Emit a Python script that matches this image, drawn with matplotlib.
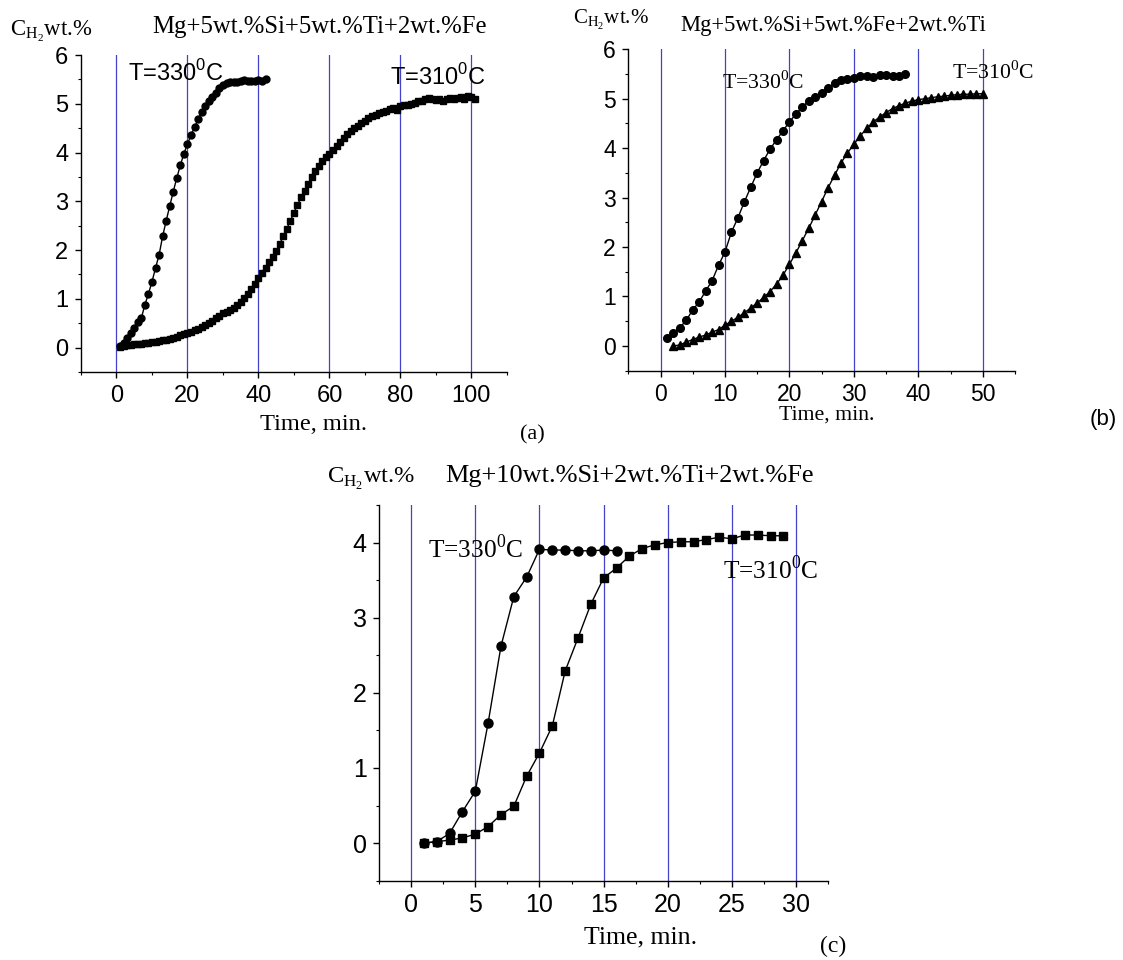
import numpy as np
import matplotlib
matplotlib.use("Agg")
import matplotlib.pyplot as plt
from matplotlib.ticker import MultipleLocator

# panel (a): Mg+5wt.%Si+5wt.%Ti+2wt.%Fe
a_t330 = list(range(1, 43))
a_c330 = [0.03, 0.10, 0.20, 0.30, 0.40, 0.52, 0.60, 0.88, 1.10, 1.35,
          1.63, 1.90, 2.28, 2.60, 2.90, 3.20, 3.48, 3.74, 3.98, 4.17,
          4.36, 4.52, 4.68, 4.83, 4.95, 5.05, 5.14, 5.23, 5.32, 5.39,
          5.42, 5.44, 5.45, 5.45, 5.46, 5.48, 5.46, 5.47, 5.47, 5.48,
          5.47, 5.51]
a_t310 = list(range(1, 102))
a_c310 = [0.02, 0.04, 0.05, 0.06, 0.07, 0.08, 0.08, 0.09, 0.10, 0.11,
          0.12, 0.14, 0.15, 0.16, 0.18, 0.20, 0.22, 0.25, 0.27, 0.30,
          0.33, 0.36, 0.39, 0.43, 0.47, 0.51, 0.55, 0.60, 0.65, 0.70,
          0.74, 0.78, 0.82, 0.88, 0.94, 1.02, 1.10, 1.20, 1.31, 1.42,
          1.52, 1.63, 1.75, 1.86, 1.98, 2.13, 2.28, 2.44, 2.60, 2.77,
          2.93, 3.08, 3.22, 3.36, 3.50, 3.62, 3.73, 3.82, 3.90, 3.98,
          4.06, 4.14, 4.22, 4.30, 4.38, 4.44, 4.50, 4.55, 4.60, 4.65,
          4.70, 4.74, 4.78, 4.81, 4.84, 4.86, 4.89, 4.91, 4.87, 4.95,
          4.97, 4.98, 5.00, 5.02, 5.05, 5.06, 5.10, 5.12, 5.10, 5.08,
          5.10, 5.06, 5.09, 5.11, 5.09, 5.12, 5.14, 5.10, 5.16, 5.13,
          5.10]

# panel (b): Mg+5wt.%Si+5wt.%Fe+2wt.%Ti
b_t330 = list(range(1, 39))
b_c330 = [0.17, 0.27, 0.37, 0.52, 0.73, 0.89, 1.11, 1.32, 1.63, 1.90,
          2.30, 2.59, 2.91, 3.21, 3.50, 3.75, 3.98, 4.17, 4.35, 4.53,
          4.69, 4.83, 4.96, 5.04, 5.11, 5.21, 5.31, 5.38, 5.39, 5.42,
          5.45, 5.45, 5.43, 5.48, 5.48, 5.46, 5.46, 5.50]
b_t310 = list(range(2, 51))
b_c310 = [0.00, 0.02, 0.08, 0.13, 0.18, 0.22, 0.28, 0.33, 0.42, 0.50,
          0.58, 0.67, 0.77, 0.87, 0.98, 1.10, 1.25, 1.43, 1.65, 1.88,
          2.13, 2.38, 2.65, 2.92, 3.20, 3.45, 3.70, 3.90, 4.08, 4.25,
          4.40, 4.53, 4.63, 4.72, 4.80, 4.86, 4.91, 4.95, 4.98, 5.00,
          5.02, 5.04, 5.05, 5.07, 5.08, 5.09, 5.09, 5.10, 5.10]

# panel (c): Mg+10wt.%Si+2wt.%Ti+2wt.%Fe
c_t330 = list(range(1, 17))
c_c330 = [0.00, 0.02, 0.13, 0.42, 0.69, 1.60, 2.62, 3.28, 3.54, 3.91,
          3.90, 3.90, 3.89, 3.89, 3.90, 3.89]
c_t310 = list(range(1, 30))
c_c310 = [0.00, 0.02, 0.04, 0.07, 0.12, 0.22, 0.38, 0.49, 0.89, 1.20,
          1.56, 2.29, 2.73, 3.18, 3.53, 3.66, 3.82, 3.92, 3.97, 4.00,
          4.01, 4.01, 4.04, 4.07, 4.05, 4.10, 4.10, 4.09, 4.09]

SANS = "Liberation Sans"
SERIF = "Liberation Serif"
GRID = "#4242cc"
YLAB = r"C$_{\mathregular{H}_{\mathregular{2}}}$wt.%"
T330 = r"T=330$^{\mathregular{0}}$C"
T310 = r"T=310$^{\mathregular{0}}$C"

fig = plt.figure(figsize=(11.23, 9.6), dpi=100)


def setup(ax, xlim, ylim, xmaj, xmin, ymaj, ymin, vlines, fs):
    ax.set_xlim(*xlim)
    ax.set_ylim(*ylim)
    for s in ("top", "right"):
        ax.spines[s].set_visible(False)
    for s in ("left", "bottom"):
        ax.spines[s].set_linewidth(1.0)
    ax.xaxis.set_major_locator(MultipleLocator(xmaj))
    ax.xaxis.set_minor_locator(MultipleLocator(xmin))
    ax.yaxis.set_major_locator(MultipleLocator(ymaj))
    ax.yaxis.set_minor_locator(MultipleLocator(ymin))
    ax.tick_params(which="major", direction="out", length=4, width=1.0,
                   labelsize=fs, pad=5)
    ax.tick_params(which="minor", direction="out", length=2.5, width=0.8)
    for lab in ax.get_xticklabels() + ax.get_yticklabels():
        lab.set_fontfamily(SANS)
    for v in vlines:
        ax.axvline(v, color=GRID, lw=0.9, zorder=1)


# (a)
ax = fig.add_axes([0.0721, 0.6125, 0.3793, 0.3302])
setup(ax, (-10, 110), (-0.5, 6), 20, 10, 1, 0.5,
      [0, 20, 40, 60, 80, 100], 17)
ax.plot(a_t310, a_c310, "s-", color="black", ms=4.8, lw=1, zorder=3)
ax.plot(a_t330, a_c330, "o-", color="black", ms=5, lw=1, zorder=3)
ax.text(3.3, 5.64, T330, fontsize=17, family=SANS, va="center")
ax.text(77.2, 5.56, T310, fontsize=17, family=SANS, va="center")

# (b)
ax = fig.add_axes([0.5595, 0.6139, 0.3443, 0.3348])
setup(ax, (-5, 55), (-0.5, 6), 10, 5, 1, 0.5,
      [0, 10, 20, 30, 40, 50], 16.5)
ax.plot(b_t310, b_c310, "^-", color="black", ms=5.5, lw=1, zorder=3)
ax.plot(b_t330, b_c330, "o-", color="black", ms=5.5, lw=1, zorder=3)
ax.text(9.6, 5.32, T330, fontsize=15.7, family=SERIF, va="center")
ax.text(45.2, 5.52, T310, fontsize=15.7, family=SERIF, va="center")

# (c)
ax = fig.add_axes([0.3375, 0.0826, 0.4001, 0.3914])
setup(ax, (-2.5, 32.5), (-0.5, 4.5), 5, 2.5, 1, 0.5,
      [0, 5, 10, 15, 20, 25, 30], 18)
ax.plot(c_t310, c_c310, "s-", color="black", ms=6, lw=1, zorder=3)
ax.plot(c_t330, c_c330, "o-", color="black", ms=6.5, lw=1, zorder=3)
ax.text(1.3, 3.91, T330, fontsize=18.3, family=SERIF, va="center")
ax.text(24.3, 3.64, T310, fontsize=18.3, family=SERIF, va="center")

# axis captions, titles and panel letters
fig.text(0.0089, 0.9635, YLAB, fontsize=16.4, family=SERIF, va="baseline")
fig.text(0.1353, 0.9656, "Mg+5wt.%Si+5wt.%Ti+2wt.%Fe", fontsize=17.8,
         family=SERIF, va="baseline")
fig.text(0.279, 0.552, "Time, min.", fontsize=17.6, family=SERIF,
         ha="center", va="baseline")
fig.text(0.463, 0.542, "(a)", fontsize=16, family=SERIF, va="baseline")

fig.text(0.510, 0.975, YLAB, fontsize=15, family=SERIF, va="baseline")
fig.text(0.6055, 0.968, "Mg+5wt.%Si+5wt.%Fe+2wt.%Ti", fontsize=16.3,
         family=SERIF, va="baseline")
fig.text(0.7365, 0.5625, "Time, min.", fontsize=15.7, family=SERIF,
         ha="center", va="baseline")
fig.text(0.970, 0.557, "(b)", fontsize=16, family=SANS, va="baseline")

fig.text(0.291, 0.4965, YLAB, fontsize=17.6, family=SERIF, va="baseline")
fig.text(0.3963, 0.4983, "Mg+10wt.%Si+2wt.%Ti+2wt.%Fe", fontsize=18.9,
         family=SERIF, va="baseline")
fig.text(0.570, 0.0177, "Time, min.", fontsize=18.6, family=SERIF,
         ha="center", va="baseline")
fig.text(0.730, 0.008, "(c)", fontsize=17, family=SERIF, va="baseline")

fig.savefig("out.png", dpi=100)
